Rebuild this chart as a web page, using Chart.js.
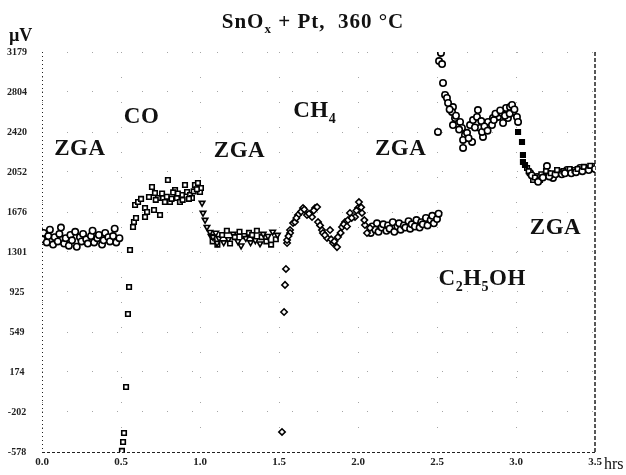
<!DOCTYPE html>
<html>
<head>
<meta charset="utf-8">
<script src="https://cdn.jsdelivr.net/npm/chart.js@4.4.0/dist/chart.umd.min.js"></script>
<style>
  body { margin: 0; background: #fff; }
</style>
</head>
<body>
<canvas id="sensorChart" width="626" height="475"></canvas>
<script>
// axis ticks as printed on the original plot
const yTicks = [-578, -202, 174, 549, 925, 1301, 1676, 2052, 2420, 2804, 3179];
const xTicks = [0, 0.5, 1.0, 1.5, 2.0, 2.5, 3.0, 3.5];

// ZGA (synthetic air) before CO
const zga1Time = [0.00, 0.01, 0.03, 0.04, 0.05, 0.07, 0.08, 0.10, 0.11, 0.12, 0.14, 0.15, 0.17, 0.18, 0.19, 0.21, 0.22, 0.24,
  0.25, 0.26, 0.28, 0.29, 0.31, 0.32, 0.33, 0.35, 0.36, 0.38, 0.39, 0.40, 0.42, 0.43, 0.45, 0.46, 0.47, 0.49];
const zga1Values = [1420, 1480, 1390, 1450, 1510, 1370, 1440, 1400, 1470, 1530, 1380, 1430, 1360, 1460, 1410, 1490, 1350, 1440,
  1400, 1470, 1420, 1380, 1450, 1500, 1390, 1430, 1460, 1370, 1410, 1480, 1440, 1400, 1450, 1520, 1390, 1430];

// CO
const coTime = [0.506, 0.513, 0.519, 0.532, 0.544, 0.551, 0.557, 0.576, 0.582, 0.589, 0.595, 0.608, 0.627, 0.652, 0.652, 0.665,
  0.677, 0.696, 0.709, 0.715, 0.734, 0.747, 0.766, 0.778, 0.797, 0.810, 0.842, 0.854, 0.873, 0.886, 0.905, 0.918, 0.937, 0.949,
  0.968, 0.987, 1.000, 1.006, 0.72, 0.76, 0.79, 0.82, 0.83, 0.86, 0.89, 0.93, 0.96, 0.98];
const coValues = [-568, -484, -399, 33, 718, 972, 1319, 1535, 1582, 1742, 1620, 1770, 1799, 1714, 1629, 1676,
  1817, 1911, 1695, 1855, 1808, 1648, 1808, 1770, 1977, 1770, 1883, 1808, 1770, 1836, 1930, 1864, 1836, 1808,
  1930, 1949, 1864, 1902, 1790, 1850, 1820, 1800, 1860, 1850, 1790, 1800, 1870, 1890];

// ZGA after CO
const coFallTime = [1.013, 1.019, 1.032, 1.044, 1.063, 1.082, 1.108];
const coFallValues = [1761, 1667, 1601, 1535, 1488, 1441, 1385];
const zga2Time = [1.07, 1.08, 1.10, 1.11, 1.12, 1.14, 1.15, 1.17, 1.18, 1.19, 1.21, 1.22, 1.24, 1.25, 1.26, 1.28, 1.29, 1.31,
  1.32, 1.33, 1.35, 1.36, 1.38, 1.39, 1.40, 1.42, 1.43, 1.45, 1.46, 1.48, 1.49];
const zga2Values = [1450, 1400, 1480, 1370, 1430, 1460, 1390, 1500, 1420, 1380, 1470, 1440, 1400, 1490, 1360, 1450, 1430, 1480,
  1390, 1460, 1410, 1500, 1380, 1440, 1470, 1400, 1450, 1370, 1490, 1420, 1460];

// CH4
const ch4Time = [1.519, 1.532, 1.538, 1.544, 1.551, 1.551, 1.570, 1.570, 1.589, 1.601, 1.620, 1.652, 1.677, 1.709, 1.728, 1.741,
  1.747, 1.772, 1.778, 1.804, 1.823, 1.842, 1.867, 1.873, 1.899, 1.918, 1.937, 1.949, 1.981, 2.000, 2.006, 2.025, 2.044, 2.057,
  2.076, 1.56, 1.61, 1.64, 1.66, 1.69, 1.72, 1.76, 1.79, 1.83, 1.85, 1.89, 1.91, 1.93, 1.96, 1.99, 2.02, 2.04];
const ch4Values = [-390, 737, 991, 1141, 1385, 1413, 1507, 1479, 1573, 1582, 1648, 1714, 1648, 1629, 1714, 1723,
  1582, 1507, 1479, 1432, 1507, 1385, 1347, 1441, 1535, 1582, 1601, 1667, 1629, 1714, 1770, 1667, 1554, 1479,
  1526, 1450, 1620, 1680, 1700, 1660, 1690, 1550, 1460, 1420, 1400, 1480, 1560, 1540, 1620, 1690, 1720, 1600];

// ZGA after CH4
const zga3Time = [2.08, 2.09, 2.11, 2.12, 2.13, 2.15, 2.16, 2.18, 2.19, 2.20, 2.22, 2.23, 2.25, 2.26, 2.27, 2.29, 2.30, 2.32,
  2.33, 2.34, 2.36, 2.37, 2.39, 2.40, 2.41, 2.43, 2.44, 2.46, 2.47, 2.48, 2.50, 2.51];
const zga3Values = [1480, 1540, 1510, 1570, 1490, 1530, 1560, 1500, 1550, 1520, 1580, 1490, 1540, 1570, 1510, 1550, 1530, 1590,
  1520, 1560, 1540, 1600, 1530, 1580, 1560, 1620, 1550, 1600, 1640, 1570, 1610, 1660];

// C2H5OH
const etohTime = [2.525, 2.513, 2.532, 2.538, 2.551, 2.563, 2.601, 2.595, 2.614, 2.601, 2.646, 2.658, 2.677, 2.665, 2.506, 2.665,
  2.722, 2.709, 2.728, 2.759, 2.753, 2.772, 2.791, 2.785, 2.823, 2.848, 2.854, 2.886, 2.918, 2.911, 2.937, 2.962, 2.975, 2.981,
  3.006, 3.013, 2.949, 2.57, 2.58, 2.62, 2.64, 2.69, 2.70, 2.74, 2.78, 2.80, 2.82, 2.86, 2.87, 2.90, 2.93, 2.96, 2.99];
const etohValues = [3170, 3094, 3066, 2888, 2775, 2747, 2662, 2616, 2559, 2493, 2522, 2465, 2400, 2353, 2428, 2278,
  2334, 2493, 2540, 2634, 2569, 2465, 2381, 2428, 2522, 2493, 2559, 2569, 2512, 2606, 2653, 2662, 2681, 2616,
  2569, 2522, 2559, 2700, 2640, 2580, 2450, 2420, 2370, 2470, 2530, 2480, 2440, 2540, 2600, 2630, 2580, 2600, 2640];

// ZGA after C2H5OH
const etohFallTime = [3.013, 3.038, 3.044, 3.044, 3.057];
const etohFallValues = [2428, 2334, 2212, 2146, 2118];
const zga4Time = [3.070, 3.089, 3.108, 3.133, 3.152, 3.196, 3.203, 3.234, 3.278, 3.323, 3.361, 3.405, 3.449, 3.487,
  3.08, 3.10, 3.12, 3.14, 3.16, 3.17, 3.19, 3.21, 3.22, 3.25, 3.26, 3.29, 3.30, 3.31, 3.34, 3.35, 3.37, 3.38, 3.39, 3.42,
  3.43, 3.46, 3.47, 3.50];
const zga4Values = [2090, 2043, 1977, 2005, 1977, 2108, 2043, 1996, 2052, 2071, 2052, 2090, 2090, 2099,
  2060, 2020, 2000, 1960, 2030, 2000, 2060, 2010, 2040, 2030, 2070, 2030, 2060, 2040, 2080, 2040, 2070, 2050, 2080, 2060,
  2100, 2070, 2110, 2080];

// gas labels: [text parts, x in hrs, y in µV, align]
const gasLabels = [
  { parts: [['ZGA', 0]], x: 0.24, y: 2212, align: 'center' },
  { parts: [['CO', 0]], x: 0.63, y: 2512, align: 'center' },
  { parts: [['ZGA', 0]], x: 1.25, y: 2193, align: 'center' },
  { parts: [['CH', 0], ['4', 1]], x: 1.59, y: 2569, align: 'left' },
  { parts: [['ZGA', 0]], x: 2.27, y: 2212, align: 'center' },
  { parts: [['ZGA', 0]], x: 3.25, y: 1470, align: 'center' },
  { parts: [['C', 0], ['2', 1], ['H', 0], ['5', 1], ['OH', 0]], x: 2.51, y: 990, align: 'left' }
];

function pts(t, v) {
  return t.map((x, i) => ({ x: x, y: v[i] }));
}

function drawParts(ctx, parts, x, y, size, align, weight) {
  const main = weight + ' ' + size + 'px "Liberation Serif"';
  const sub = weight + ' ' + Math.round(size * 0.6) + 'px "Liberation Serif"';
  let total = 0;
  parts.forEach(p => {
    ctx.font = p[1] ? sub : main;
    total += ctx.measureText(p[0]).width;
  });
  let cx = x;
  if (align === 'center') cx = x - total / 2;
  ctx.textAlign = 'left';
  ctx.textBaseline = 'alphabetic';
  parts.forEach(p => {
    ctx.font = p[1] ? sub : main;
    ctx.fillText(p[0], cx, p[1] ? y + size * 0.25 : y);
    cx += ctx.measureText(p[0]).width;
  });
}

const framePlugin = {
  id: 'frame',
  beforeDatasetsDraw(chart) {
    const { ctx, chartArea: a } = chart;
    ctx.save();
    ctx.strokeStyle = '#222';
    ctx.lineWidth = 1;
    ctx.setLineDash([1, 3]);
    ctx.beginPath();
    ctx.moveTo(a.left + 0.5, a.top);
    ctx.lineTo(a.left + 0.5, a.bottom);
    ctx.stroke();
    ctx.setLineDash([3, 2]);
    ctx.beginPath();
    ctx.moveTo(a.left, a.bottom + 0.5);
    ctx.lineTo(a.right, a.bottom + 0.5);
    ctx.stroke();
    ctx.lineWidth = 1.5;
    ctx.setLineDash([4, 2]);
    ctx.beginPath();
    ctx.moveTo(a.right, a.top);
    ctx.lineTo(a.right, a.bottom);
    ctx.stroke();
    ctx.restore();
  },
  afterDraw(chart) {
    const { ctx, scales } = chart;
    ctx.save();
    ctx.fillStyle = '#111';
    if (ctx.letterSpacing !== undefined) ctx.letterSpacing = '0.5px';
    gasLabels.forEach(l => {
      drawParts(ctx, l.parts, scales.x.getPixelForValue(l.x), scales.y.getPixelForValue(l.y), 23, l.align, 'bold');
    });
    if (ctx.letterSpacing !== undefined) ctx.letterSpacing = '1px';
    drawParts(ctx, [['SnO', 0], ['x', 1], [' + Pt,  360 °C', 0]], 313, 28, 21, 'center', 'bold');
    if (ctx.letterSpacing !== undefined) ctx.letterSpacing = '0px';
    drawParts(ctx, [['µV', 0]], 9, 41, 18, 'left', 'bold');
    drawParts(ctx, [['hrs', 0]], 604, 469, 16, 'left', 'normal');
    ctx.restore();
  }
};

const white = '#fff';
const black = '#000';

function makeSet(data, style, fill, extra) {
  return Object.assign({
    data: data,
    pointStyle: style,
    pointRadius: 3.2,
    pointBorderWidth: 1.6,
    pointBorderColor: black,
    pointBackgroundColor: fill,
    showLine: false
  }, extra || {});
}

new Chart(document.getElementById('sensorChart'), {
  type: 'scatter',
  data: {
    datasets: [
      makeSet(pts(zga1Time, zga1Values), 'circle', white),
      makeSet(pts(coTime, coValues), 'rect', white),
      makeSet(pts(coFallTime, coFallValues), 'triangle', white, { pointRotation: 180 }),
      makeSet(pts(zga2Time, zga2Values), ctx => ctx.dataIndex % 2 ? 'rect' : 'triangle', white,
        { pointRotation: ctx => ctx.dataIndex % 2 ? 0 : 180 }),
      makeSet(pts(ch4Time, ch4Values), 'rectRot', white),
      makeSet(pts(zga3Time, zga3Values), 'circle', white),
      makeSet(pts(etohTime, etohValues), 'circle', white),
      makeSet(pts(etohFallTime, etohFallValues), 'rect', black),
      makeSet(pts(zga4Time, zga4Values), ctx => ctx.dataIndex % 2 ? 'circle' : 'rect', white)
    ]
  },
  options: {
    responsive: false,
    animation: false,
    layout: { padding: { top: 52, right: 31, left: 0, bottom: 0 } },
    plugins: {
      legend: { display: false },
      tooltip: { enabled: false },
      title: { display: false }
    },
    scales: {
      x: {
        type: 'linear',
        min: 0,
        max: 3.5,
        afterBuildTicks: axis => { axis.ticks = xTicks.map(v => ({ value: v })); },
        afterFit: axis => { axis.height = 23; },
        ticks: {
          callback: v => v.toFixed(1),
          font: { family: 'Liberation Serif', size: 11, weight: 'bold' },
          color: '#222',
          padding: 4,
          maxRotation: 0
        },
        grid: { color: 'rgba(0,0,0,0.35)', drawTicks: false },
        border: { display: false, dash: [1, 24] }
      },
      y: {
        type: 'linear',
        min: -578,
        max: 3179,
        afterBuildTicks: axis => { axis.ticks = yTicks.map(v => ({ value: v })); },
        afterFit: axis => { axis.width = 42; },
        ticks: {
          callback: v => String(v),
          font: { family: 'Liberation Serif', size: 10, weight: 'bold' },
          color: '#222',
          crossAlign: 'center',
          padding: 15
        },
        grid: { color: 'rgba(0,0,0,0.35)', drawTicks: false },
        border: { display: false, dash: [1, 24] }
      }
    }
  },
  plugins: [framePlugin]
});
</script>
</body>
</html>
